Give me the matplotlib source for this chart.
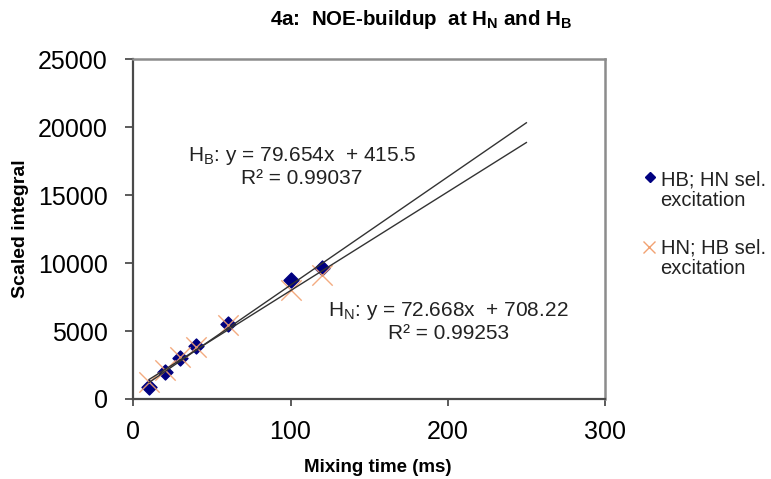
import matplotlib
matplotlib.use("Agg")
import matplotlib.pyplot as plt
import numpy as np
from matplotlib.lines import Line2D

plt.rcParams['font.family'] = ['Liberation Sans', 'DejaVu Sans']
plt.rcParams['mathtext.fontset'] = 'custom'
plt.rcParams['mathtext.rm'] = 'Liberation Sans'
plt.rcParams['mathtext.bf'] = 'Liberation Sans:bold'

# Mixing times (ms)
mixing_time = [10, 20, 30, 40, 60, 100, 120]
# HB integral with HN selective excitation
hb_integral = [905, 2010, 2995, 3920, 5500, 8760, 9660]
# HN integral with HB selective excitation
hn_integral = [1275, 2135, 3110, 3850, 5445, 8020, 9125]

# Linear trendline coefficients (slope, intercept) and R^2
hb_fit = (79.654, 415.5, 0.99037)
hn_fit = (72.668, 708.22, 0.99253)
fit_range = [10, 250]

x_ticks = [0, 100, 200, 300]
y_ticks = [0, 5000, 10000, 15000, 20000, 25000]

series_labels = [('HB; HN sel.', 'excitation'), ('HN; HB sel.', 'excitation')]

W, H = 771, 479
fig = plt.figure(figsize=(W / 100, H / 100), dpi=100)
ax = fig.add_axes([133.3 / W, 1 - 399 / H, (605 - 133.3) / W, (399 - 59.3) / H])

hb_color = '#000080'
hn_color = '#F2A272'

ax.scatter(mixing_time, hb_integral, marker='D', s=58, color=hb_color, zorder=3)
ax.scatter(mixing_time, hn_integral, marker='x', s=215, color=hn_color,
           linewidths=1.0, alpha=0.9, zorder=4)

xs = np.array(fit_range, dtype=float)
for slope, intercept, _ in (hb_fit, hn_fit):
    ax.plot(xs, slope * xs + intercept, color='#333333', lw=1.0, zorder=5)

ax.set_xlim(0, 300)
ax.set_ylim(0, 25000)
ax.set_xticks(x_ticks)
ax.set_yticks(y_ticks)
ax.tick_params(axis='x', direction='out', length=5, width=1.2,
               color='#404040', labelsize=18, pad=10)
ax.tick_params(axis='y', direction='out', length=6, width=1.2,
               color='#404040', labelsize=18, pad=12.5)

for side in ('left', 'bottom'):
    ax.spines[side].set_color('#4a4a4a')
    ax.spines[side].set_linewidth(1.6)
for side in ('top', 'right'):
    ax.spines[side].set_color('#8c8c8c')
    ax.spines[side].set_linewidth(1.8)

# Axis titles and chart title
fig.text(378 / W, 1 - 468 / H, 'Mixing time (ms)', ha='center', va='center',
         fontsize=13.5, fontweight='bold')
fig.text(20.5 / W, 1 - 229 / H, 'Scaled integral', ha='center', va='center',
         rotation=90, fontsize=14, fontweight='bold')
fig.text(421 / W, 1 - 25 / H,
         r'4a:  NOE-buildup  at H$_\mathbf{N}$ and H$_\mathbf{B}$',
         ha='center', va='baseline', fontsize=14.8, fontweight='bold')

def fit_label(name, fit):
    slope, intercept, r2 = fit
    return (f'H$_\\mathrm{{{name}}}$: y = {slope:g}x  + {intercept:g}\n'
            f'R² = {r2:.5f}')

ax.text(107.3, 17108, fit_label('B', hb_fit), ha='center', va='center',
        fontsize=15, color='#222222', linespacing=1.1)
ax.text(200.2, 5703, fit_label('N', hn_fit), ha='center', va='center',
        fontsize=15, color='#222222', linespacing=1.1)

# Legend drawn to the right of the plot area, marker beside the first line
legend_rows = [(177, 185, 206), (247, 254, 274)]
handles = [
    Line2D([650 / W], [1 - 177 / H], ls='none', marker='D', ms=5.5,
           color=hb_color, transform=fig.transFigure),
    Line2D([649 / W], [1 - 247 / H], ls='none', marker='x', ms=9, mew=1.0,
           color=hn_color, transform=fig.transFigure),
]
for handle, (line1, line2), (_, b1, b2) in zip(handles, series_labels, legend_rows):
    fig.add_artist(handle)
    fig.text(661 / W, 1 - b1 / H, line1, ha='left', va='baseline',
             fontsize=14.5, color='#222222')
    fig.text(660 / W, 1 - b2 / H, line2, ha='left', va='baseline',
             fontsize=14.5, color='#222222')

fig.savefig('out.png', dpi=100)
